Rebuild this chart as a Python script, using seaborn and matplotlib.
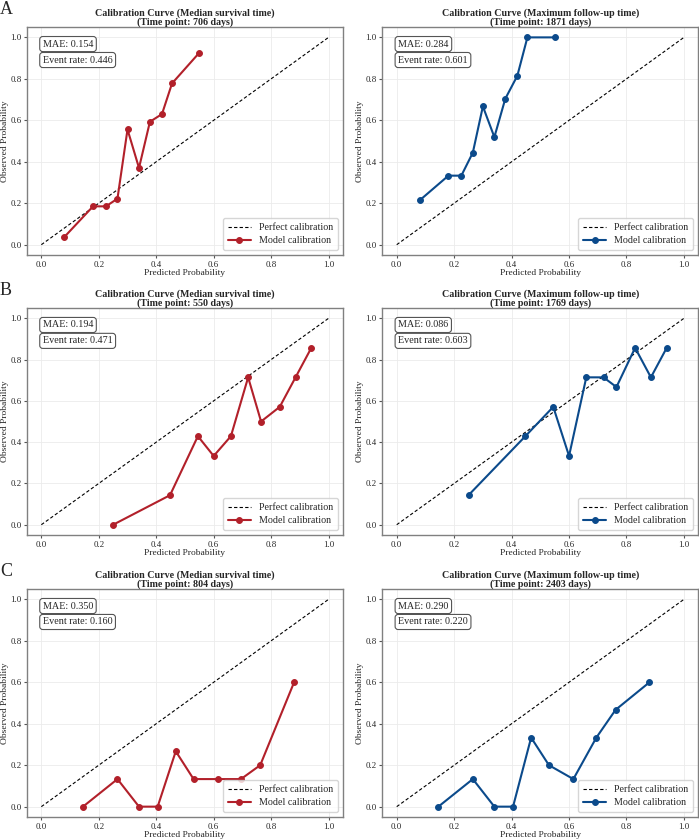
import matplotlib
matplotlib.use("Agg")
import matplotlib.pyplot as plt
import numpy as np
import pandas as pd
import seaborn as sns

# cohort A
pred_a = [0.08, 0.18, 0.225, 0.265, 0.30, 0.34, 0.378, 0.42, 0.455, 0.55]
obs_a_median = [0.037, 0.185, 0.185, 0.222, 0.556, 0.370, 0.593, 0.630, 0.778, 0.926]
obs_a_max = [0.214, 0.333, 0.333, 0.444, 0.667, 0.519, 0.704, 0.815, 1.0, 1.0]

# cohort B
pred_b = [0.25, 0.448, 0.545, 0.60, 0.66, 0.72, 0.765, 0.83, 0.885, 0.94]
obs_b_median = [0.0, 0.143, 0.429, 0.333, 0.429, 0.714, 0.500, 0.571, 0.714, 0.857]
obs_b_max = [0.143, 0.429, 0.571, 0.333, 0.714, 0.714, 0.667, 0.857, 0.714, 0.857]

# cohort C
pred_c = [0.145, 0.265, 0.34, 0.405, 0.468, 0.53, 0.615, 0.695, 0.762, 0.88]
obs_c_median = [0.0, 0.133, 0.0, 0.0, 0.267, 0.133, 0.133, 0.133, 0.200, 0.600]
obs_c_max = [0.0, 0.133, 0.0, 0.0, 0.333, 0.200, 0.133, 0.333, 0.467, 0.600]

days_median = [706, 550, 804]
days_max = [1871, 1769, 2403]
mae_median = [0.154, 0.194, 0.350]
mae_max = [0.284, 0.086, 0.290]
rate_median = [0.446, 0.471, 0.160]
rate_max = [0.601, 0.603, 0.220]
row_labels = ["A", "B", "C"]

RED = "#B2202A"
BLUE = "#0B4A8B"

sns.set_style("whitegrid")
plt.rcParams["font.family"] = ["Liberation Serif", "DejaVu Serif"]

fig = plt.figure(figsize=(6.99, 8.39), dpi=100)

rows = [
    (pred_a, obs_a_median, obs_a_max),
    (pred_b, obs_b_median, obs_b_max),
    (pred_c, obs_c_median, obs_c_max),
]
row_bottoms = [0.696, 0.3623, 0.0262]
row_heights = [0.2718, 0.2706, 0.2718]
col_lefts = [0.0386, 0.547]
col_width = 0.452


def calib_panel(ax, pred, obs, color, title, mae, rate):
    ax.plot([0, 1], [0, 1], color="black", lw=0.8, ls=(0, (3, 2)), label="Perfect calibration")
    df = pd.DataFrame({"pred": pred, "obs": obs})
    sns.lineplot(data=df, x="pred", y="obs", ax=ax, color=color, lw=1.5,
                 marker="o", markersize=4.2, markeredgecolor=color,
                 label="Model calibration", sort=False)
    ax.set_xlim(-0.05, 1.05)
    ax.set_ylim(-0.05, 1.05)
    ax.set_xticks(np.arange(0, 1.01, 0.2))
    ax.set_yticks(np.arange(0, 1.01, 0.2))
    ax.tick_params(labelsize=6.4, length=2.5, pad=1.5, color="#555555", left=True, bottom=True)
    ax.grid(True, color="#ebebeb", lw=0.6)
    for s in ax.spines.values():
        s.set_color("#808080")
        s.set_linewidth(1.0)
    ax.set_title(title, fontsize=7.2, fontweight="bold", pad=1.5, linespacing=1.0)
    ax.set_xlabel("Predicted Probability", fontsize=6.8, labelpad=0)
    ax.set_ylabel("Observed Probability", fontsize=6.8, labelpad=1)
    box = dict(boxstyle="round,pad=0.3", facecolor="white", edgecolor="#555555", lw=0.8)
    ax.text(0.05, 0.945, f"MAE: {mae:.3f}", transform=ax.transAxes, fontsize=7.3,
            va="top", ha="left", bbox=box)
    ax.text(0.05, 0.875, f"Event rate: {rate:.3f}", transform=ax.transAxes, fontsize=7.3,
            va="top", ha="left", bbox=box)
    leg = ax.legend(loc="lower right", fontsize=7.2, frameon=True, handlelength=2.3,
                    borderpad=0.5, labelspacing=0.4)
    leg.get_frame().set_edgecolor("#cccccc")


for i, (pred, om, ox) in enumerate(rows):
    axl = fig.add_axes([col_lefts[0], row_bottoms[i], col_width, row_heights[i]])
    axr = fig.add_axes([col_lefts[1], row_bottoms[i], col_width, row_heights[i]])
    calib_panel(axl, pred, om, RED,
                f"Calibration Curve (Median survival time)\n(Time point: {days_median[i]} days)",
                mae_median[i], rate_median[i])
    calib_panel(axr, pred, ox, BLUE,
                f"Calibration Curve (Maximum follow-up time)\n(Time point: {days_max[i]} days)",
                mae_max[i], rate_max[i])
    fig.text(0.0, row_bottoms[i] + row_heights[i] + 26 / 839, row_labels[i],
             fontsize=13, va="top", ha="left")

fig.savefig("out.png", dpi=100)
